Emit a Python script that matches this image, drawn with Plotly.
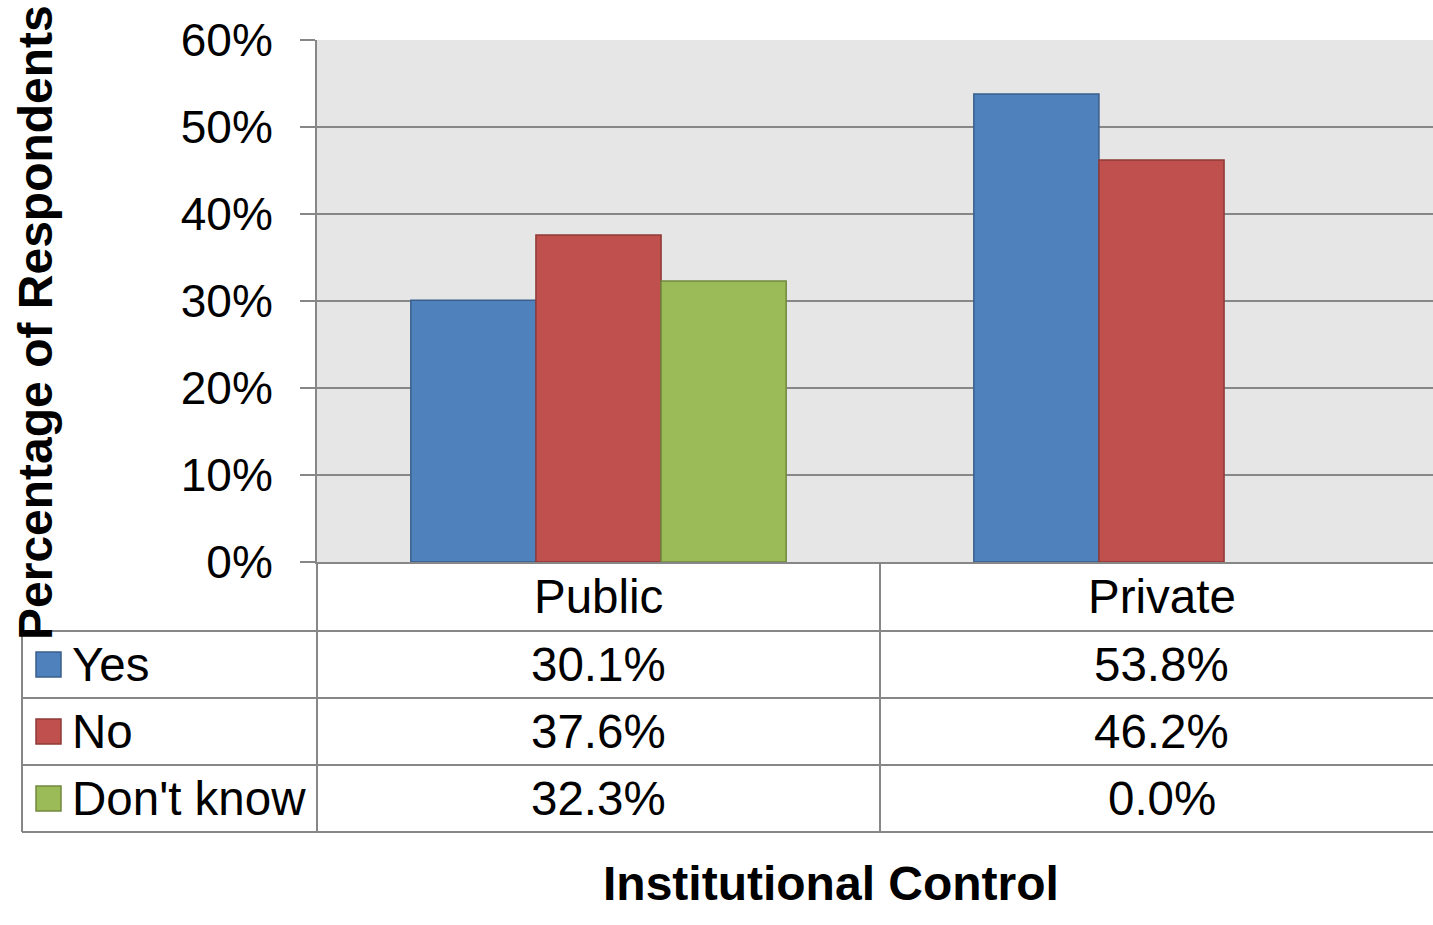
import plotly.graph_objects as go

# ---------------- data ----------------
categories = ["Public", "Private"]
series_names = ["Yes", "No", "Don't know"]
yes_vals = [30.1, 53.8]
no_vals = [37.6, 46.2]
dont_know_vals = [32.3, 0.0]
y_tick_vals = [0, 10, 20, 30, 40, 50, 60]
y_tick_text = ["0%", "10%", "20%", "30%", "40%", "50%", "60%"]
x_title = "Institutional Control"
y_title = "Percentage of Respondents"

# ---------------- styles ----------------
fill_colors = ["#4F81BD", "#C0504D", "#9BBB59"]
edge_colors = ["#3A5F8B", "#8E3A38", "#71893F"]
FONT = "Liberation Sans, Arial, sans-serif"
GRID = "#878787"
FS = 47.5
FSB = 48

W, H = 1433, 925
L, T, B = 317, 40, 562          # plot area pixel edges
PW, PH = W - L, B - T
CAT_PX = 563                     # pixel spacing between categories


def px_x(p):
    return (p - L) / PW


def px_y(p):
    return (B - p) / PH


all_series = [yes_vals, no_vals, dont_know_vals]

fig = go.Figure()
for name, vals, fc, ec in zip(series_names, all_series, fill_colors, edge_colors):
    fig.add_trace(go.Bar(
        x=categories, y=vals, name=name,
        marker=dict(color=fc,
                    line=dict(color=ec, width=[1.5 if v > 0 else 0 for v in vals])),
        hoverinfo="skip",
    ))

fig.update_layout(
    width=W, height=H,
    margin=dict(l=L, r=0, t=T, b=H - B, pad=0),
    paper_bgcolor="white",
    plot_bgcolor="#E6E6E6",
    barmode="group",
    bargap=1 / 3,
    bargroupgap=0,
    showlegend=False,
    font=dict(family=FONT, size=FS, color="black"),
)

fig.update_xaxes(
    range=[-0.5, -0.5 + PW / CAT_PX],
    showticklabels=False, ticks="", showgrid=False,
    showline=True, linecolor=GRID, linewidth=2,
    zeroline=False,
)
fig.update_yaxes(
    range=[0, 60], tickmode="array", tickvals=y_tick_vals, ticktext=y_tick_text,
    ticks="outside", ticklen=15, tickwidth=2, tickcolor=GRID,
    ticklabelstandoff=18,
    tickfont=dict(family=FONT, size=46, color="black"),
    showgrid=True, gridcolor=GRID, gridwidth=2,
    showline=True, linecolor=GRID, linewidth=2,
    zeroline=False,
)

# ---------------- data table ----------------
row_lines_px = [631, 698, 765, 832]
shapes = []
for yp in row_lines_px:
    shapes.append(dict(type="line", xref="paper", yref="paper",
                       x0=px_x(22), x1=1.0, y0=px_y(yp), y1=px_y(yp),
                       line=dict(color=GRID, width=2)))
shapes.append(dict(type="line", xref="paper", yref="paper",
                   x0=0, x1=0, y0=px_y(562), y1=px_y(832),
                   line=dict(color=GRID, width=2)))
shapes.append(dict(type="line", xref="paper", yref="paper",
                   x0=px_x(22), x1=px_x(22), y0=px_y(631), y1=px_y(832),
                   line=dict(color=GRID, width=2)))
shapes.append(dict(type="line", xref="x", yref="paper",
                   x0=0.5, x1=0.5, y0=px_y(562), y1=px_y(832),
                   line=dict(color=GRID, width=2)))

annotations = []
cat_row_center = (562 + 631) / 2
for c in categories:
    annotations.append(dict(x=c, xref="x", y=px_y(cat_row_center), yref="paper",
                            text=c, showarrow=False, xanchor="center", yanchor="middle",
                            font=dict(family=FONT, size=FS, color="black")))

for i, (name, vals, fc, ec) in enumerate(zip(series_names, all_series, fill_colors, edge_colors)):
    top = row_lines_px[i]
    bot = row_lines_px[i + 1]
    mid = (top + bot) / 2
    shapes.append(dict(type="rect", xref="paper", yref="paper",
                       x0=px_x(36), x1=px_x(61), y0=px_y(mid - 12.5), y1=px_y(mid + 12.5),
                       fillcolor=fc, line=dict(color=ec, width=1.5)))
    annotations.append(dict(x=px_x(70), xref="paper", y=px_y(mid), yref="paper",
                            text=name, showarrow=False, xanchor="left", yanchor="middle",
                            font=dict(family=FONT, size=FS, color="black")))
    for c, v in zip(categories, vals):
        annotations.append(dict(x=c, xref="x", y=px_y(mid), yref="paper",
                                text=f"{v:.1f}%", showarrow=False,
                                xanchor="center", yanchor="middle",
                                font=dict(family=FONT, size=FS, color="black")))

annotations.append(dict(x=px_x(831), xref="paper", y=px_y(883), yref="paper",
                        text=f"<b>{x_title}</b>", showarrow=False,
                        xanchor="center", yanchor="middle",
                        font=dict(family=FONT, size=FSB, color="black")))
annotations.append(dict(x=px_x(35), xref="paper", y=px_y(323), yref="paper",
                        text=f"<b>{y_title}</b>", showarrow=False, textangle=-90,
                        xanchor="center", yanchor="middle",
                        font=dict(family=FONT, size=FSB, color="black")))

fig.update_layout(shapes=shapes, annotations=annotations)

fig.write_html("out.html")
